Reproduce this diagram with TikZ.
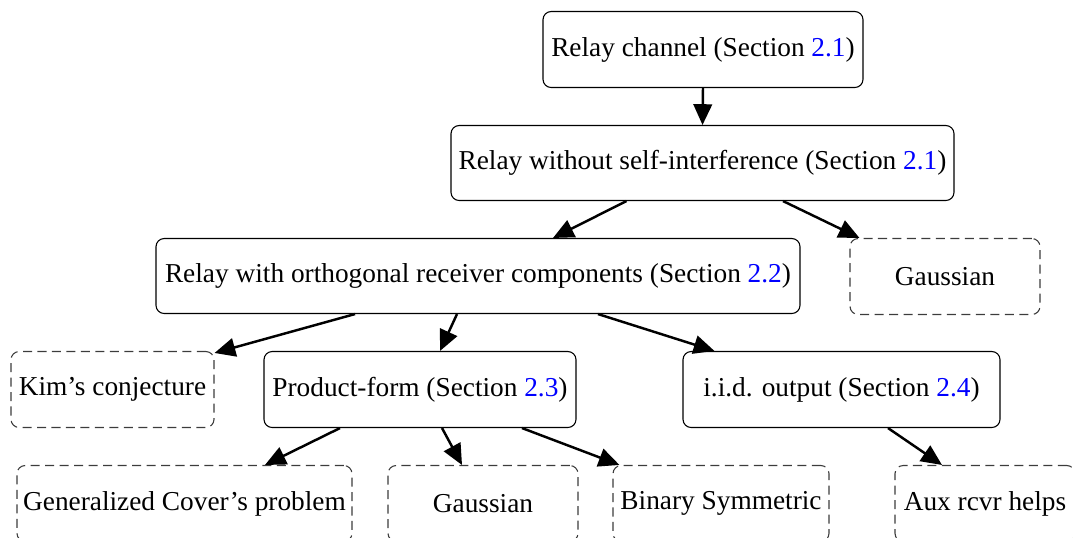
\documentclass[tikz,border=0pt]{standalone}
\usepackage{fontspec}
\setmainfont{Liberation Serif}
\usetikzlibrary{arrows.meta,calc}
\definecolor{linkblue}{RGB}{0,0,255}
\definecolor{dashgray}{RGB}{60,60,60}
\newcommand{\sref}[1]{\textcolor{linkblue}{#1}}
\begin{document}
\begin{tikzpicture}[x=0.366pt,y=-0.366pt,
  solidbox/.style={draw=black,line width=0.4pt,rounded corners=3pt,inner sep=0pt,
     minimum height=76*0.366pt,font=\fontsize{10}{12}\selectfont},
  dashbox/.style={draw=dashgray,line width=0.4pt,rounded corners=3pt,inner sep=0pt,
     dash pattern=on 3.3pt off 2pt,minimum height=76*0.366pt,font=\fontsize{10}{12}\selectfont},
  arr/.style={line width=0.9pt,-{Triangle[length=7.6pt,width=6.8pt]}}]
\clip (0,0) rectangle (1073,537);
% nodes
\node[solidbox,minimum width=320*0.366pt] (b1) at (703,49.5) {Relay channel (Section \sref{2.1})};
\node[solidbox,minimum width=503*0.366pt,minimum height=75*0.366pt] (b2) at (702.5,163) {Relay without self-interference (Section \sref{2.1})};
\node[solidbox,minimum width=644*0.366pt,minimum height=75*0.366pt] (b3) at (478,276) {Relay with orthogonal receiver components (Section \sref{2.2})};
\node[dashbox,minimum width=190*0.366pt] (b4) at (945,276.5) {Gaussian};
\node[dashbox,minimum width=203*0.366pt] (b5) at (112.5,389.5) {Kim's conjecture};
\node[solidbox,minimum width=312*0.366pt] (b6) at (420,389.5) {Product-form (Section \sref{2.3})};
\node[solidbox,minimum width=317*0.366pt] (b7) at (841.5,389.5) {i.i.d. output (Section \sref{2.4})};
\node[dashbox,minimum width=335*0.366pt] (b8) at (184.5,503.5) {Generalized Cover's problem};
\node[dashbox,minimum width=190*0.366pt] (b9) at (483,503.5) {Gaussian};
\node[dashbox,minimum width=216*0.366pt] (b10) at (721,503.5) {Binary Symmetric};
\node[dashbox,minimum width=180*0.366pt] (b11) at (985,503.5) {Aux rcvr helps};
% connectors
\draw[arr] (b1.south) -- (b2.north);
\draw[arr] ($(b2.south)+(-76,0)$) -- ($(b3.north)+(75,0)$);
\draw[arr] ($(b2.south)+(80.5,0)$) -- ($(b4.north west)+(10,0)$);
\draw[arr] ($(b3.south)+(-123,0)$) -- ($(b5.north east)+(0,2)$);
\draw[arr] ($(b3.south)+(-21,0)$) -- ($(b6.north)+(20,0)$);
\draw[arr] ($(b3.south)+(120,0)$) -- ($(b7.north west)+(32,0)$);
\draw[arr] ($(b6.south)+(-80,0)$) -- ($(b8.north)+(80.5,0)$);
\draw[arr] ($(b6.south)+(22,0)$) -- ($(b9.north)+(-21,0)$);
\draw[arr] ($(b6.south)+(102,0)$) -- ($(b10.north west)+(7,0)$);
\draw[arr] ($(b7.south)+(46.5,0)$) -- ($(b11.north)+(-43,0)$);
\end{tikzpicture}
\end{document}
